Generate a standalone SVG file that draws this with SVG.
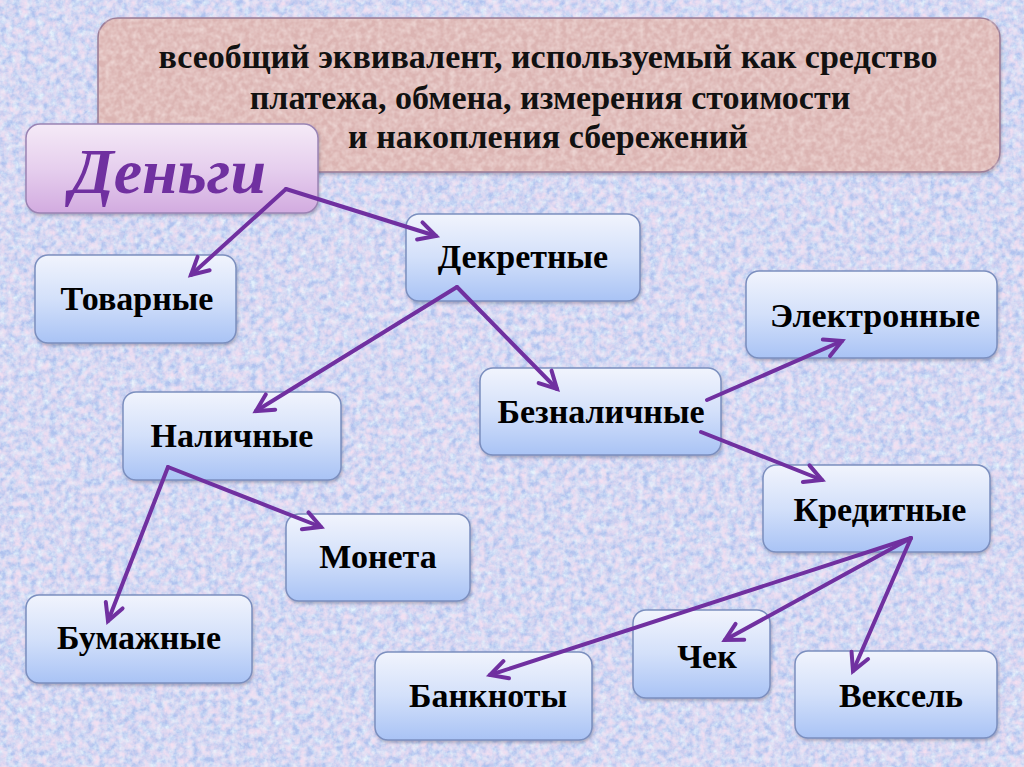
<svg xmlns="http://www.w3.org/2000/svg" width="1024" height="767" viewBox="0 0 1024 767">
<defs>
<style>
.node rect{fill:url(#gBlue);stroke:#7b8fbf;stroke-width:1.5;filter:url(#shadow)}
.node text{font-family:"Liberation Serif","Times New Roman",serif;font-weight:bold;font-size:34px;fill:#000;text-anchor:middle}
.title{font-family:"Liberation Serif","Times New Roman",serif;font-weight:bold;font-size:34px;fill:#111;text-anchor:middle}
.conn path{fill:none;stroke:#7030a0;stroke-width:4;stroke-linecap:round;marker-end:url(#chev)}
</style>
<linearGradient id="gBlue" x1="0" y1="0" x2="0" y2="1">
<stop offset="0" stop-color="#f1f4fd"/>
<stop offset="0.5" stop-color="#d3e0fa"/>
<stop offset="1" stop-color="#a9c3f5"/>
</linearGradient>
<linearGradient id="gViolet" x1="0" y1="0" x2="0" y2="1">
<stop offset="0" stop-color="#f5eaf7"/>
<stop offset="0.5" stop-color="#e6cfee"/>
<stop offset="1" stop-color="#d2abe0"/>
</linearGradient>
<filter id="shadow" x="-10%" y="-10%" width="120%" height="130%">
<feDropShadow dx="1" dy="2" stdDeviation="1.5" flood-color="#404060" flood-opacity="0.35"/>
</filter>
<filter id="pinkNoise" x="0" y="0" width="100%" height="100%">
<feTurbulence type="fractalNoise" baseFrequency="0.14" numOctaves="3" seed="4" result="t"/>
<feColorMatrix in="t" type="matrix" values="0 0 0 0 0.90  0 0 0 0 0.74  0 0 0 0 0.88  1.8 0 0 0 -0.55"/>
</filter>
<filter id="blueNoise" x="0" y="0" width="100%" height="100%">
<feTurbulence type="fractalNoise" baseFrequency="0.16" numOctaves="3" seed="11" result="t"/>
<feColorMatrix in="t" type="matrix" values="0 0 0 0 0.80  0 0 0 0 0.90  0 0 0 0 0.98  0 1.8 0 0 -0.55"/>
</filter>
<filter id="boxNoise" x="0" y="0" width="100%" height="100%">
<feTurbulence type="fractalNoise" baseFrequency="0.18" numOctaves="2" seed="9" result="t"/>
<feColorMatrix in="t" type="matrix" values="0 0 0 0 0.93  0 0 0 0 0.80  0 0 0 0 0.78  1.6 0 0 0 -0.5"/>
</filter>
<marker id="chev" markerUnits="userSpaceOnUse" markerWidth="40" markerHeight="40" viewBox="-20 -20 40 40" refX="0" refY="0" orient="auto" overflow="visible">
<path d="M-17 -9 L0 0 L-17 9" fill="none" stroke="#7030a0" stroke-width="4" stroke-linecap="round" stroke-linejoin="miter"/>
</marker>
</defs>
<rect width="1024" height="767" fill="#b0c2ee"/>
<rect width="1024" height="767" filter="url(#blueNoise)"/>
<rect width="1024" height="767" filter="url(#pinkNoise)"/>

<g id="definition">
<rect x="98" y="18" width="902" height="154" rx="20" fill="#dbb4b2" stroke="#9c7e98" stroke-width="1.5" filter="url(#shadow)"/>
<rect x="99" y="19" width="900" height="152" rx="19" filter="url(#boxNoise)" opacity="0.7"/>
<text class="title" x="548" y="68">всеобщий эквивалент, используемый как средство</text>
<text class="title" x="550" y="109">платежа, обмена, измерения стоимости</text>
<text class="title" x="548" y="148">и накопления сбережений</text>
</g>

<g id="dengi">
<rect x="26" y="124" width="292" height="89" rx="14" fill="url(#gViolet)" stroke="#9a84b4" stroke-width="1.5" filter="url(#shadow)"/>
<text x="168" y="193" font-family="Liberation Serif,'Times New Roman',serif" font-weight="bold" font-style="italic" font-size="64" fill="#7030a0" text-anchor="middle">Деньги</text>
</g>

<g id="tovarnye" class="node"><rect x="35" y="255" width="201" height="88" rx="13"/><text x="137" y="310">Товарные</text></g>
<g id="dekretnye" class="node"><rect x="406" y="214" width="234" height="87" rx="13"/><text x="523" y="268">Декретные</text></g>
<g id="elektronnye" class="node"><rect x="746" y="271" width="251" height="87" rx="13"/><text x="875" y="327">Электронные</text></g>
<g id="beznalichnye" class="node"><rect x="480" y="368" width="241" height="87" rx="13"/><text x="601" y="423">Безналичные</text></g>
<g id="nalichnye" class="node"><rect x="123" y="392" width="218" height="88" rx="13"/><text x="232" y="447">Наличные</text></g>
<g id="kreditnye" class="node"><rect x="763" y="465" width="227" height="87" rx="13"/><text x="880" y="521">Кредитные</text></g>
<g id="moneta" class="node"><rect x="286" y="514" width="184" height="87" rx="13"/><text x="378" y="568">Монета</text></g>
<g id="bumazhnye" class="node"><rect x="26" y="595" width="226" height="88" rx="13"/><text x="139" y="649">Бумажные</text></g>
<g id="chek" class="node"><rect x="633" y="610" width="137" height="88" rx="13"/><text x="707" y="668">Чек</text></g>
<g id="veksel" class="node"><rect x="795" y="651" width="202" height="87" rx="13"/><text x="901" y="707">Вексель</text></g>
<g id="banknoty" class="node"><rect x="375" y="652" width="217" height="88" rx="13"/><text x="488" y="707">Банкноты</text></g>

<g id="connectors" class="conn">
<path d="M286 189 L191 275"/>
<path d="M286 189 L436 236"/>
<path d="M457 287 L256 411"/>
<path d="M457 287 L557 389"/>
<path d="M707 400 L842 341"/>
<path d="M701 432 L822 480"/>
<path d="M168 467 L321 527"/>
<path d="M168 467 L108 621"/>
<path d="M911 538 L490 675"/>
<path d="M911 538 L725 640"/>
<path d="M911 538 L853 671"/>
</g>
</svg>
